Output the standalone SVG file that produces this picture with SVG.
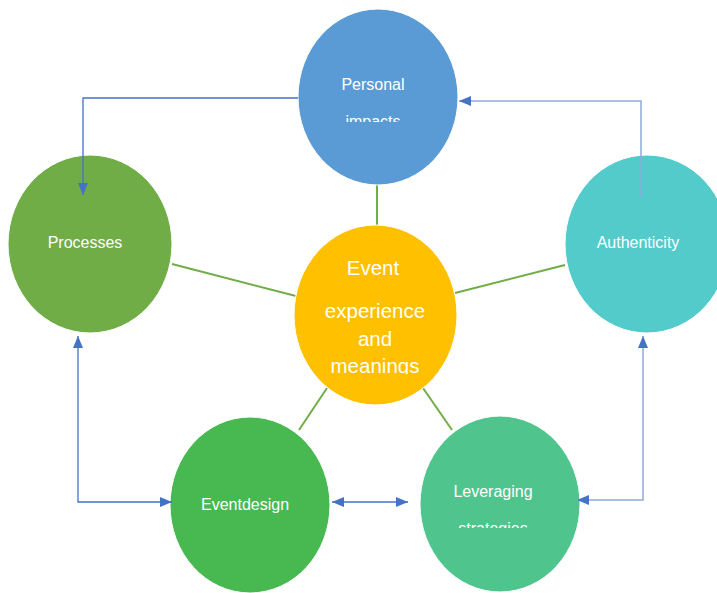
<svg xmlns="http://www.w3.org/2000/svg" width="717" height="593" viewBox="0 0 717 593">
<style>
.lbl{font-family:"Liberation Sans",Arial,sans-serif;font-size:16px;fill:#fff;text-anchor:middle}
.big{font-family:"Liberation Sans",Arial,sans-serif;font-size:20.5px;fill:#fff;text-anchor:middle}
.node{stroke:#fff;stroke-width:1}
.g{stroke:#70AD47;stroke-width:2;fill:none}
.b{stroke:#4472C4;stroke-width:1.3;fill:none}
.lb{stroke:#8FAADC;stroke-width:1.5;fill:none}
</style>
<defs>
<marker id="ah" viewBox="0 0 12 10" refX="12" refY="5" markerWidth="12" markerHeight="10" markerUnits="userSpaceOnUse" orient="auto-start-reverse">
<path d="M0,0 L12,5 L0,10 Z" fill="#4472C4"/>
</marker>
<clipPath id="c1"><rect x="290" y="0" width="180" height="122"/></clipPath>
<clipPath id="c2"><rect x="410" y="410" width="180" height="118"/></clipPath>
<clipPath id="c3"><rect x="280" y="220" width="190" height="154"/></clipPath>
</defs>
<rect width="717" height="593" fill="#fff"/>
<g id="lines">
<line class="g" x1="377" y1="185" x2="377" y2="226"/>
<line class="g" x1="172" y1="264" x2="296" y2="296"/>
<line class="g" x1="565" y1="265" x2="455" y2="293"/>
<line class="g" x1="299" y1="430" x2="327" y2="388"/>
<line class="g" x1="423" y1="388" x2="452" y2="430"/>
</g>
<g id="personal">
<ellipse class="node" cx="378" cy="97" rx="80" ry="88" fill="#5B9BD5"/>
<g clip-path="url(#c1)">
<text class="lbl" x="373" y="90">Personal</text>
<text class="lbl" x="373" y="127">impacts</text>
</g>
</g>
<g id="processes">
<ellipse class="node" cx="90" cy="244" rx="82" ry="89" fill="#70AD47"/>
<text class="lbl" x="85" y="248">Processes</text>
</g>
<g id="authenticity">
<ellipse class="node" cx="647" cy="244" rx="82" ry="89" fill="#53CBCB"/>
<text class="lbl" x="638" y="248">Authenticity</text>
</g>
<g id="center">
<ellipse class="node" cx="375.5" cy="315" rx="81.5" ry="90" fill="#FFC000"/>
<g clip-path="url(#c3)">
<text class="big" x="373" y="275">Event</text>
<text class="big" x="375" y="318">experience</text>
<text class="big" x="375" y="346">and</text>
<text class="big" x="375" y="373">meanings</text>
</g>
</g>
<g id="eventdesign">
<ellipse class="node" cx="250" cy="505" rx="80" ry="88" fill="#47B950"/>
<text class="lbl" x="245" y="510">Eventdesign</text>
</g>
<g id="leveraging">
<ellipse class="node" cx="500" cy="504" rx="80" ry="88" fill="#4FC58D"/>
<g clip-path="url(#c2)">
<text class="lbl" x="493" y="497">Leveraging</text>
<text class="lbl" x="493" y="534">strategies</text>
</g>
</g>
<g id="connectors">
<polyline class="b" points="298,98 83,98 83,195" marker-end="url(#ah)"/>
<polyline class="lb" points="641,197 641,101 459,101" marker-end="url(#ah)"/>
<polyline class="b" points="78,336 78,502 172,502" marker-start="url(#ah)" marker-end="url(#ah)"/>
<line class="b" x1="332" y1="502" x2="408" y2="502" marker-start="url(#ah)" marker-end="url(#ah)"/>
<polyline class="lb" points="643,336 643,500 577,500" marker-start="url(#ah)" marker-end="url(#ah)"/>
</g>
</svg>
